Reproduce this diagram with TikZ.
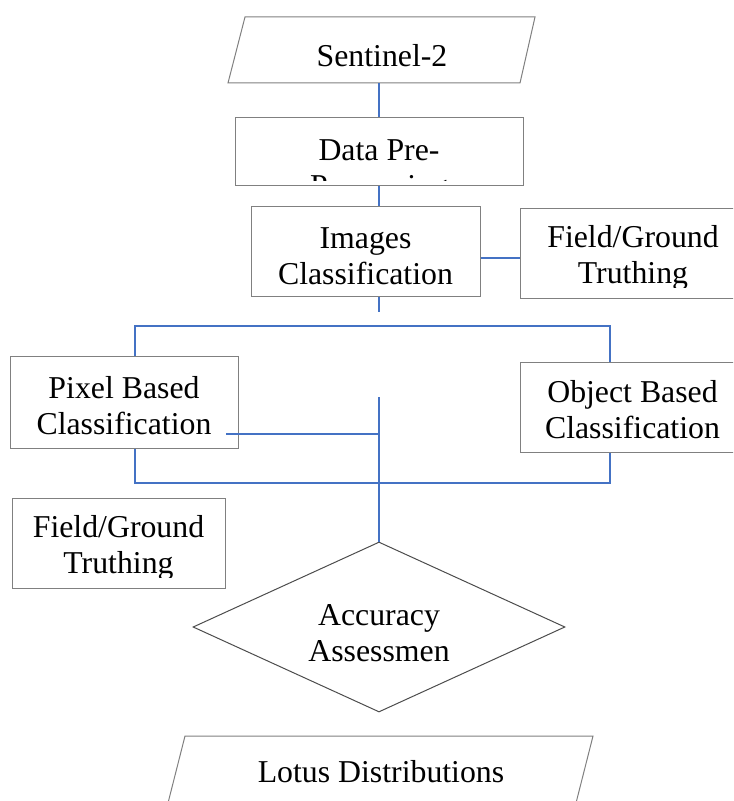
\documentclass[tikz,border=0pt]{standalone}
\usepackage{fontspec}
\setmainfont{Liberation Serif}
\usetikzlibrary{shapes.geometric}
\definecolor{linkblue}{HTML}{4472C4}

\begin{document}
\begin{tikzpicture}[
x=0.5pt, y=-0.5pt,
every node/.style={font=\fontsize{15.9pt}{18pt}\selectfont, align=center, inner sep=0pt},
squarednode/.style={rectangle, draw=black!50, line width=0.5pt},
diamondnode/.style={diamond, aspect=2.19, draw=black!70, line width=0.5pt},
outline/.style={draw=black!50, line width=0.5pt},
link/.style={draw=linkblue, line width=0.75pt},
]
\useasboundingbox (0,0) rectangle (733,801);
\clip (0,0) rectangle (733,801);

%Nodes
\node[squarednode, minimum width=144pt, minimum height=34pt] (preproc_node) at (379,152) {};
\node[squarednode, minimum width=114.5pt, minimum height=45pt] (classify_node) at (365.5,252) {};
\node[squarednode, minimum width=112.5pt, minimum height=45pt] (truth_right_node) at (632.5,254) {};
\node[squarednode, minimum width=114pt, minimum height=45.5pt] (pixel_node) at (124,402.5) {};
\node[squarednode, minimum width=112.5pt, minimum height=45pt] (object_node) at (632.5,407) {};
\node[squarednode, minimum width=106.25pt, minimum height=45pt] (truth_left_node) at (118.75,543) {};
\node[diamondnode, minimum width=186pt, minimum height=85pt] (accuracy_node) at (379,627) {};

%Texts
\node (sentinel_node) at (382,56) {Sentinel-2};
\node (classify_text) at (365.5,256) {Images\\Classification};
\node (pixel_text) at (124,405.5) {Pixel Based\\Classification};
\node (object_text) at (632.5,410) {Object Based\\Classification};
\node (accuracy_text) at (379,633) {Accuracy\\Assessmen};
\node (lotus_node) at (381,772) {Lotus Distributions};

%Texts cut off by their boxes
\begin{scope}
\clip (preproc_node.north west) rectangle ([yshift=3pt]preproc_node.south east);
\node (preproc_text) at (379,172) {Data Pre-\\Processing};
\end{scope}
\begin{scope}
\clip (truth_right_node.north west) rectangle ([yshift=6pt]truth_right_node.south east);
\node (truth_right_text) at (633,257.7) {Field/Ground\\Truthing};
\end{scope}
\begin{scope}
\clip (truth_left_node.north west) rectangle ([yshift=5.5pt]truth_left_node.south east);
\node (truth_left_text) at (118.5,548) {Field/Ground\\Truthing};
\end{scope}

%Parallelograms
\draw[outline] ([shift={(-68.5pt,19.5pt)}]sentinel_node.center) -- ([shift={(76.5pt,19.5pt)}]sentinel_node.center)
  -- ([shift={(69pt,-13.5pt)}]sentinel_node.center) -- ([shift={(-77pt,-13.5pt)}]sentinel_node.center) -- cycle;
\draw[outline] ([shift={(-98pt,18pt)}]lotus_node.center) -- ([shift={(106pt,18pt)}]lotus_node.center)
  -- ([shift={(97.5pt,-15.5pt)}]lotus_node.center) -- ([shift={(-106.5pt,-15.5pt)}]lotus_node.center) -- cycle;

%Lines
\coordinate (sentinel_base) at ([yshift=-13.5pt]sentinel_node.center);
\coordinate (classify_stub) at (379,312);
\coordinate (bus_nw) at (135,326);
\coordinate (bus_ne) at (610,326);
\coordinate (bus_sw) at (135,483);
\coordinate (bus_se) at (610,483);
\coordinate (spine_top) at (379,397);
\coordinate (pixel_tap) at (226,434);
\coordinate (pixel_join) at (379,434);

\draw[link] (sentinel_base -| preproc_node.north) -- (preproc_node.north);
\draw[link] (preproc_node.south) -- (preproc_node.south |- classify_node.north);
\draw[link] (classify_stub |- classify_node.south) -- (classify_stub);
\draw[link] ([yshift=-3pt]classify_node.east) -- ([yshift=-3pt]classify_node.east -| truth_right_node.west);
\draw[link] (bus_nw |- pixel_node.north) -- (bus_nw) -- (bus_ne) -- (bus_ne |- object_node.north);
\draw[link] (bus_sw |- pixel_node.south) -- (bus_sw) -- (bus_se) -- (bus_se |- object_node.south);
\draw[link] (pixel_tap) -- (pixel_join);
\draw[link] (spine_top) -- (accuracy_node.north);

\end{tikzpicture}
\end{document}
